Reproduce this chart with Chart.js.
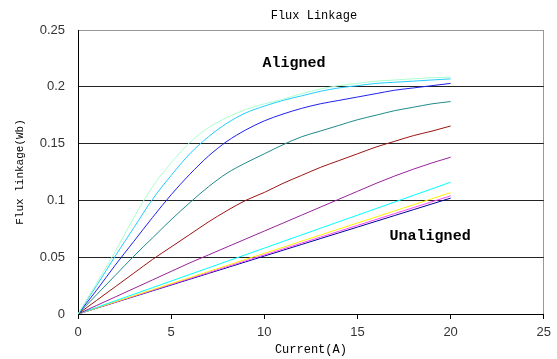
<!DOCTYPE html>
<html>
<head>
<meta charset="utf-8">
<script src="https://cdn.jsdelivr.net/npm/chart.js@4/dist/chart.umd.min.js"></script>
<style>
  html, body { margin: 0; padding: 0; background: #fff; }
  #box { width: 557px; height: 359px; }
</style>
</head>
<body>
<div id="box"><canvas id="fluxChart"></canvas></div>
<script>
// current steps (A)
var currents = [0, 1, 2, 3, 4, 5, 6, 7, 8, 9, 10, 11, 12, 13, 14, 15, 16, 17, 18, 19, 20];

// flux linkage (Wb) per rotor position, aligned -> unaligned
var fluxPaleGreen = [0, 0.027, 0.055, 0.085, 0.112, 0.133, 0.151, 0.164, 0.173, 0.180, 0.185, 0.189, 0.194, 0.198, 0.201, 0.203, 0.205, 0.206, 0.207, 0.208, 0.2085];
var fluxSkyBlue = [0, 0.025, 0.051, 0.076, 0.101, 0.122, 0.141, 0.156, 0.168, 0.177, 0.183, 0.188, 0.192, 0.196, 0.199, 0.201, 0.203, 0.204, 0.205, 0.206, 0.207];
var fluxBlue = [0, 0.021, 0.043, 0.064, 0.085, 0.105, 0.123, 0.139, 0.152, 0.162, 0.170, 0.176, 0.181, 0.185, 0.188, 0.191, 0.194, 0.197, 0.199, 0.201, 0.203];
var fluxTeal = [0, 0.017, 0.034, 0.051, 0.067, 0.083, 0.098, 0.112, 0.124, 0.133, 0.141, 0.149, 0.156, 0.161, 0.166, 0.171, 0.175, 0.179, 0.182, 0.185, 0.187];
var fluxDarkRed = [0, 0.012, 0.024, 0.036, 0.048, 0.059, 0.070, 0.081, 0.091, 0.100, 0.107, 0.115, 0.122, 0.129, 0.135, 0.141, 0.147, 0.152, 0.157, 0.161, 0.1655];
var fluxPurple = [0, 0.0075, 0.015, 0.0225, 0.030, 0.0375, 0.045, 0.052, 0.059, 0.066, 0.073, 0.080, 0.087, 0.094, 0.101, 0.108, 0.115, 0.1215, 0.1275, 0.133, 0.138];
var fluxAqua = [0, 0.0058, 0.0116, 0.0174, 0.0232, 0.029, 0.0348, 0.0406, 0.0464, 0.0522, 0.058, 0.0638, 0.0696, 0.0754, 0.0812, 0.087, 0.0928, 0.0986, 0.1044, 0.1102, 0.116];
var fluxYellow = [0, 0.0053, 0.0107, 0.016, 0.0214, 0.0267, 0.032, 0.0374, 0.0427, 0.0481, 0.0534, 0.0587, 0.0641, 0.0694, 0.0748, 0.0801, 0.0854, 0.0908, 0.0961, 0.1015, 0.1068];
var fluxMagenta = [0, 0.0052, 0.0104, 0.0156, 0.0208, 0.026, 0.0312, 0.0364, 0.0416, 0.0468, 0.052, 0.0572, 0.0624, 0.0676, 0.0728, 0.078, 0.0832, 0.0884, 0.0936, 0.0988, 0.104];
var fluxNavy = [0, 0.0051, 0.0102, 0.0153, 0.0204, 0.0255, 0.0306, 0.0357, 0.0408, 0.0459, 0.051, 0.0561, 0.0612, 0.0663, 0.0714, 0.0765, 0.0816, 0.0867, 0.0918, 0.0969, 0.102];

var xTicks = [0, 5, 10, 15, 20, 25];
var yTicks = [0, 0.05, 0.1, 0.15, 0.2, 0.25];

var seriesList = [
    { values: fluxPaleGreen, color: "#aaffcc" },
    { values: fluxSkyBlue, color: "#22ccff" },
    { values: fluxBlue, color: "#2020ee" },
    { values: fluxTeal, color: "#1f8a8a" },
    { values: fluxDarkRed, color: "#9a1414" },
    { values: fluxPurple, color: "#992299" },
    { values: fluxAqua, color: "#00ffff" },
    { values: fluxYellow, color: "#ffee00" },
    { values: fluxMagenta, color: "#ff44ff" },
    { values: fluxNavy, color: "#000099" }
];

/**
 * pairs the current steps with one series of flux values
 **/
function toPoints(values) {
    var pts = [];
    for (var i = 0; i < currents.length; i++) {
        pts.push({ x: currents[i], y: values[i] });
    }
    return pts;
}

var datasets = seriesList.map(function (s) {
    return {
        data: toPoints(s.values),
        borderColor: s.color,
        borderWidth: 1,
        pointRadius: 0,
        fill: false,
        cubicInterpolationMode: "monotone"
    };
});

var monoFont = "'Liberation Mono', 'DejaVu Sans Mono', monospace";
var tickFont = "'Liberation Sans', Arial, sans-serif";

// chart title (centred over the plot) and region labels inside the plot
var chartTexts = {
    id: "chartTexts",
    afterDatasetsDraw: function (chart) {
        var ctx = chart.ctx;
        var area = chart.chartArea;
        var xs = chart.scales.x, ys = chart.scales.y;
        ctx.save();
        ctx.fillStyle = "#000";
        ctx.textAlign = "center";
        ctx.textBaseline = "middle";
        ctx.font = "12px " + monoFont;
        ctx.fillText("Flux Linkage", (area.left + area.right) / 2 + 3, 16);
        ctx.font = "bold 15px " + monoFont;
        ctx.fillText("Aligned", xs.getPixelForValue(11.6), ys.getPixelForValue(0.221));
        ctx.fillText("Unaligned", xs.getPixelForValue(18.9), ys.getPixelForValue(0.0687));
        ctx.restore();
    }
};

var ctxFlux = document.getElementById("fluxChart");
var fluxChart = new Chart(ctxFlux, {
    type: "line",
    data: { datasets: datasets },
    plugins: [chartTexts],
    options: {
        responsive: true,
        maintainAspectRatio: false,
        animation: false,
        layout: { padding: { left: 0, right: 12, top: 30, bottom: 0 } },
        plugins: {
            legend: { display: false },
            tooltip: { enabled: false },
            title: { display: false }
        },
        scales: {
            x: {
                type: "linear",
                min: 0,
                max: 25,
                afterBuildTicks: function (scale) {
                    scale.ticks = xTicks.map(function (v) { return { value: v }; });
                },
                afterFit: function (scale) { scale.height = 45; },
                grid: {
                    drawOnChartArea: true,
                    drawTicks: true,
                    tickLength: 5,
                    tickColor: "#000",
                    color: function (c) {
                        return c.tick && c.tick.value === 25 ? "#999" : "rgba(0,0,0,0)";
                    }
                },
                border: { display: true, color: "#000", width: 1 },
                ticks: {
                    color: "#333",
                    padding: 6,
                    maxRotation: 0,
                    font: { family: tickFont, size: 13 },
                    callback: function (v) { return String(v); }
                },
                title: {
                    display: true,
                    text: "Current(A)",
                    color: "#000",
                    font: { family: monoFont, size: 12 },
                    padding: { top: 0, bottom: 2 }
                }
            },
            y: {
                type: "linear",
                min: 0,
                max: 0.25,
                afterBuildTicks: function (scale) {
                    scale.ticks = yTicks.map(function (v) { return { value: v }; });
                },
                afterFit: function (scale) { scale.width = 78; },
                grid: {
                    drawTicks: false,
                    color: function (c) {
                        return c.tick && c.tick.value === 0.25 ? "#999" : "#222";
                    }
                },
                border: { display: true, color: "#000", width: 1 },
                ticks: {
                    color: "#333",
                    padding: 13,
                    font: { family: tickFont, size: 13 },
                    callback: function (v) { return String(v); }
                },
                title: {
                    display: true,
                    text: "Flux linkage(Wb)",
                    color: "#000",
                    font: { family: monoFont, size: 11 },
                    padding: { top: 13, bottom: 0 }
                }
            }
        }
    }
});
</script>
</body>
</html>
